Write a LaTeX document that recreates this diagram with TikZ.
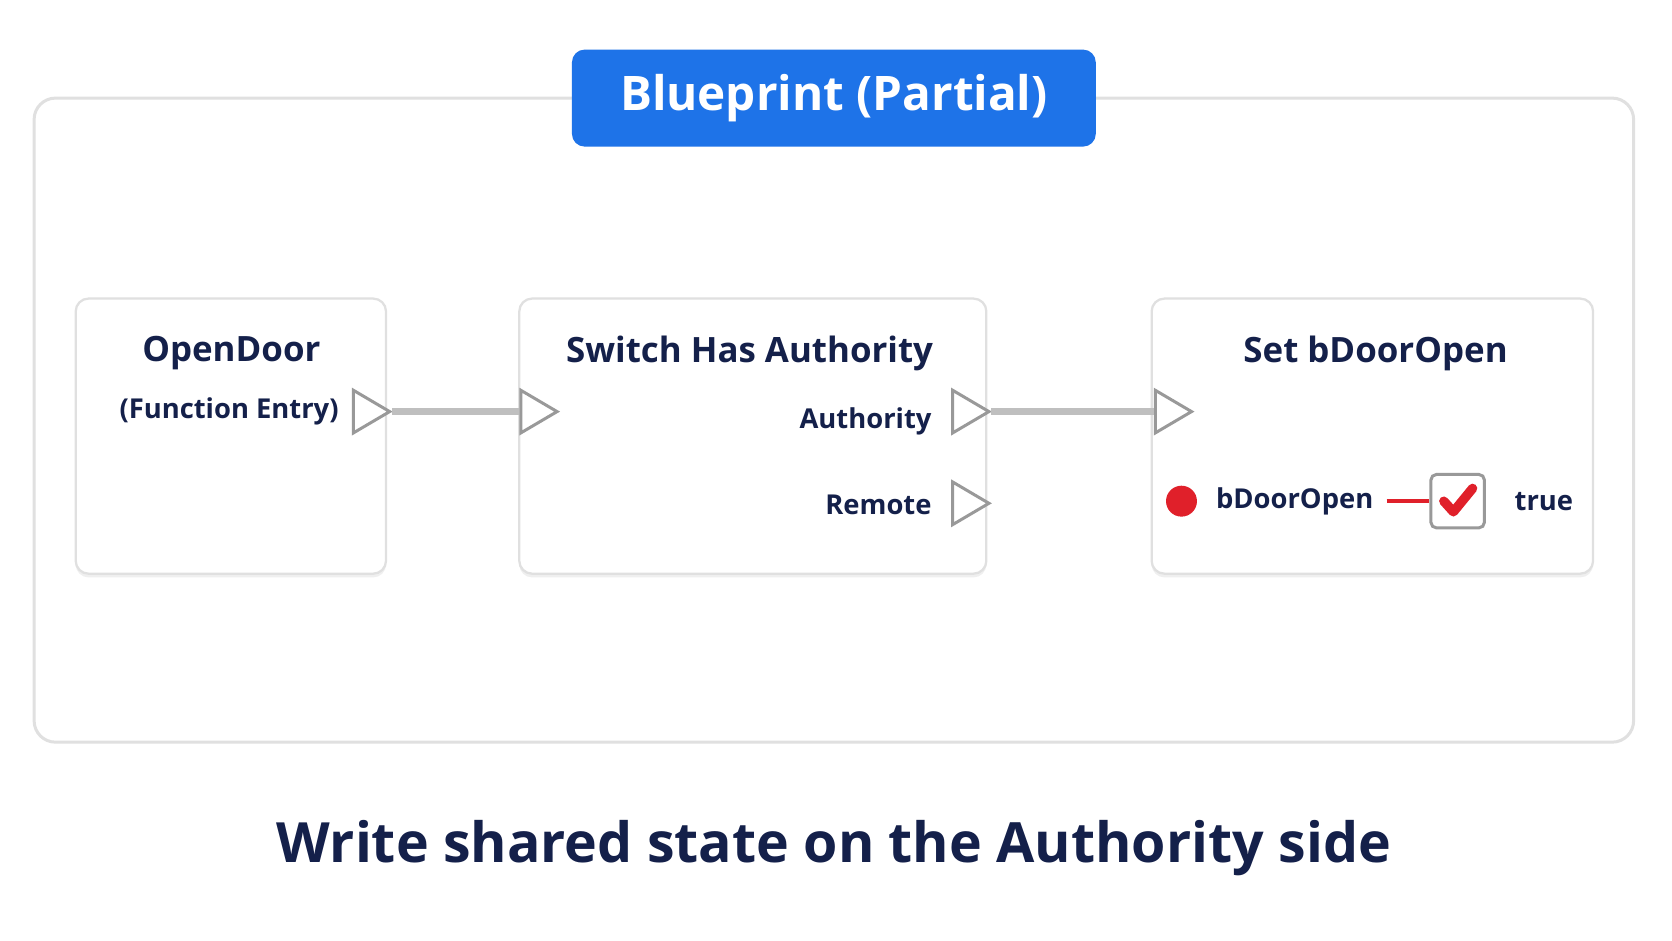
\documentclass[tikz,border=0pt]{standalone}
\usepackage{fontspec}
\setmainfont{Open Sans}
\usetikzlibrary{shapes.geometric,positioning,shadows}
\definecolor{navy}{HTML}{14204A}
\definecolor{bpblue}{HTML}{1E73E8}
\definecolor{pinred}{HTML}{E0202A}
\tikzset{
    frame/.style={draw=black!12, line width=0.8pt, rounded corners=0.2cm, fill=white},
    header/.style={fill=bpblue, rounded corners=0.12cm, text=white, font=\fontsize{12.7}{15}\selectfont\bfseries},
    bpnode/.style={draw=black!12, line width=0.6pt, rounded corners=0.12cm, fill=white,
        drop shadow={shadow xshift=0pt, shadow yshift=-1pt, opacity=0.12}},
    nodetitle/.style={text=navy, font=\fontsize{9.3}{11}\selectfont\bfseries},
    pinlabel/.style={text=navy, font=\fontsize{7.3}{9}\selectfont\bfseries},
    exec/.style={isosceles triangle, isosceles triangle apex angle=80, draw=black!40, fill=white,
        line width=0.8pt, minimum height=0.34cm, inner sep=0pt, isosceles triangle stretches, minimum width=0.4cm},
    wire/.style={draw=black!25, line width=2pt},
    redwire/.style={draw=pinred, line width=1pt},
}
\begin{document}
\begin{tikzpicture}[x=0.01cm, y=-0.01cm]
    \useasboundingbox[fill=white] (0,0) rectangle (1568,882);
    \draw[frame] (32,92) rectangle (1532,696);
    \node[header, minimum width=4.91cm, minimum height=0.91cm] (head) at (782,92) {Blueprint (Partial)};

    % nodes
    \draw[bpnode] (71,280) rectangle (362,538);
    \draw[bpnode] (487,280) rectangle (925,538);
    \draw[bpnode] (1080,280) rectangle (1494,538);

    \node[nodetitle] (entry) at (217,331) {OpenDoor};
    \node[pinlabel, anchor=east] (entrysub) at (330,386) {(Function Entry)};
    \node[pinlabel, anchor=east] (auth) at (886,395) {Authority};
    \node[pinlabel, anchor=east] (remote) at (886,473) {Remote};
    \node[nodetitle] (switch) at (703,331) {Switch Has Authority};
    \node[nodetitle] (set) at (1290,331) {Set bDoorOpen};

    % exec pins
    \node[exec, anchor=west] (entryout) at (330,386) {};
    \node[exec, anchor=west] (switchin) at (487,386) {};
    \node[exec, anchor=west] (authout) at (892,386) {};
    \node[exec, anchor=west] (remoteout) at (892,472) {};
    \node[exec, anchor=west] (setin) at (1082,386) {};

    \draw[wire] (entryout.east) -- (switchin.west);
    \draw[wire] (authout.east) -- (setin.west);

    % boolean input
    \node[circle, fill=pinred, minimum size=0.29cm, inner sep=0pt] (dot) at (1108,470) {};
    \node[pinlabel, anchor=west] (var) at (1128,470) {bDoorOpen};
    \node[draw=black!40, line width=0.8pt, rounded corners=0.05cm, fill=white,
        minimum size=0.5cm, inner sep=0pt] (check) at (1367,470) {};
    \draw[pinred, line width=2.5pt, line cap=round, line join=round]
        ([shift={(-13,0)}]check.center) -- ([shift={(-4,10)}]check.center) -- ([shift={(14,-12)}]check.center);
    \draw[redwire] (var.east) -- (check.west);
    \node[pinlabel, anchor=west] (val) at (1408,470) {true};

    \node[text=navy, font=\fontsize{14.8}{17}\selectfont\bfseries] (caption) at (782,795) {Write shared state on the Authority side};
\end{tikzpicture}
\end{document}
